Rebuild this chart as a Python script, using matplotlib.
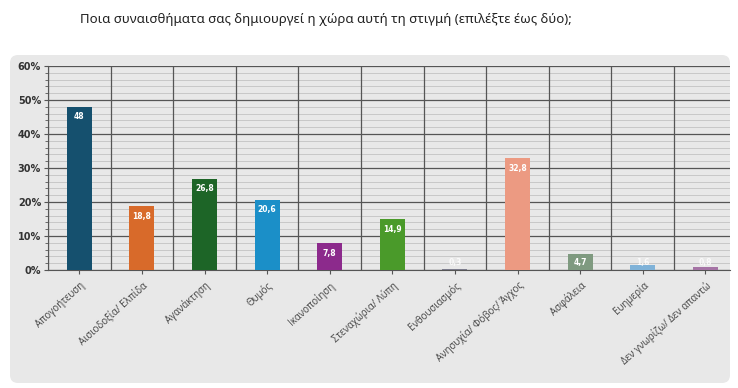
import matplotlib
matplotlib.use("Agg")
import matplotlib.pyplot as plt
from matplotlib.patches import FancyBboxPatch
from matplotlib.ticker import MultipleLocator, PercentFormatter

categories = ["Απογοήτευση", "Αισιοδοξία/ Ελπίδα", "Αγανάκτηση", "Θυμός", "Ικανοποίηση",
              "Στεναχώρια/ Λύπη", "Ενθουσιασμός", "Ανησυχία/ Φόβος/ Άγχος", "Ασφάλεια",
              "Ευημερία", "Δεν γνωρίζω/ Δεν απαντώ"]
values = [48, 18.8, 26.8, 20.6, 7.8, 14.9, 0.3, 32.8, 4.7, 1.6, 0.8]
labels = ["48", "18,8", "26,8", "20,6", "7,8", "14,9", "0,3", "32,8", "4,7", "1,6", "0,8"]
colors = ["#15506e", "#d86a2a", "#1d6527", "#1b8fc8", "#8c2a8c", "#4a9a2a",
          "#7c7c8c", "#ec9a82", "#7f9a80", "#7fb2d8", "#a574a5"]
title = "Ποια συναισθήματα σας δημιουργεί η χώρα αυτή τη στιγμή (επιλέξτε έως δύο);"

W, H = 738, 388
fig = plt.figure(figsize=(W / 100, H / 100), dpi=100)
fig.patch.set_facecolor("white")

bg = fig.add_axes([0, 0, 1, 1], zorder=-10)
bg.set_xlim(0, W)
bg.set_ylim(H, 0)
bg.axis("off")
bg.add_patch(FancyBboxPatch((10, 55), 720, 328,
                            boxstyle="round,pad=0,rounding_size=8",
                            facecolor="#e8e8e8", edgecolor="none"))

fig.text(326 / W, 1 - 20 / H, title, ha="center", va="center", fontsize=9.5,
         color="#222222", family=["Noto Sans", "DejaVu Sans"])

ax = fig.add_axes([48 / W, 1 - 270 / H, (730 - 48) / W, (270 - 66) / H])
ax.set_facecolor("#e8e8e8")
x = list(range(len(categories)))
ax.bar(x, values, width=0.4, color=colors, zorder=3)
for xi, v, lab in zip(x, values, labels):
    ax.text(xi, max(v - 1.6, 3.6), lab, ha="center", va="top", fontsize=5.5,
            color="white", fontweight="bold", zorder=4, alpha=1 if v > 3 else 0.8)

ax.set_ylim(0, 60)
ax.set_xlim(-0.5, (730 - 48) / 62.6 - 0.5)
ax.yaxis.set_major_locator(MultipleLocator(10))
ax.yaxis.set_minor_locator(MultipleLocator(2))
ax.yaxis.set_major_formatter(PercentFormatter(decimals=0))
ax.grid(axis="y", which="minor", color="#c8c8c8", linewidth=0.7, zorder=1)
ax.grid(axis="y", which="major", color="#555555", linewidth=0.9, zorder=2)
for b in range(len(categories)):
    ax.axvline(b - 0.5, color="#555555", linewidth=0.9, zorder=2)

ax.set_xticks(x)
ax.set_xticklabels(categories, rotation=42, ha="right", rotation_mode="anchor",
                   fontsize=7, color="#444444", family=["Open Sans", "DejaVu Sans"])
ax.tick_params(axis="x", length=3, color="#555555", pad=4)
ax.tick_params(axis="y", which="major", labelsize=7, length=3, color="#555555", pad=2)
ax.tick_params(axis="y", which="minor", length=2, color="#555555")
for lab in ax.get_yticklabels():
    lab.set_fontweight("bold")
    lab.set_color("#333333")
for s in ["top", "right"]:
    ax.spines[s].set_visible(False)
ax.spines["left"].set_color("#555555")
ax.spines["bottom"].set_color("#555555")

fig.savefig("out.png", dpi=100)
